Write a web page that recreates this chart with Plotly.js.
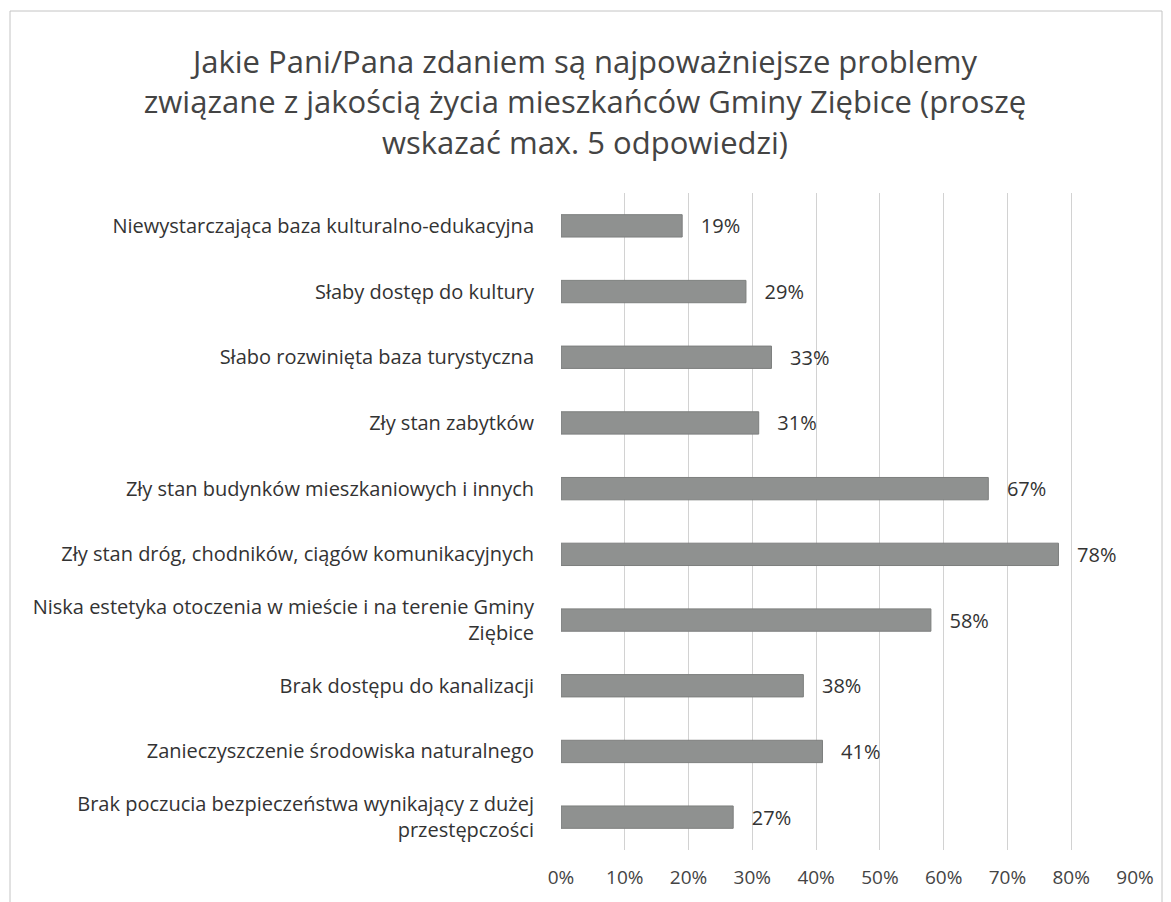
<!DOCTYPE html>
<html>
<head>
<meta charset="utf-8">
<script src="https://cdn.plot.ly/plotly-3.0.1.min.js"></script>
<style>
  html, body { margin: 0; padding: 0; background: #ffffff; }
  #chart { width: 1171px; height: 902px; }
</style>
</head>
<body>
<div id="chart"></div>
<script>
const categories = [
  "Niewystarczająca baza kulturalno-edukacyjna",
  "Słaby dostęp do kultury",
  "Słabo rozwinięta baza turystyczna",
  "Zły stan zabytków",
  "Zły stan budynków mieszkaniowych i innych",
  "Zły stan dróg, chodników, ciągów komunikacyjnych",
  "Niska estetyka otoczenia w mieście i na terenie Gminy<br>Ziębice",
  "Brak dostępu do kanalizacji",
  "Zanieczyszczenie środowiska naturalnego",
  "Brak poczucia bezpieczeństwa wynikający z dużej<br>przestępczości"
];
const values = [0.19, 0.29, 0.33, 0.31, 0.67, 0.78, 0.58, 0.38, 0.41, 0.27];
const tickValues = [0, 0.1, 0.2, 0.3, 0.4, 0.5, 0.6, 0.7, 0.8, 0.9];
const tickLabels = ["0%", "10%", "20%", "30%", "40%", "50%", "60%", "70%", "80%", "90%"];
const titleText = "Jakie Pani/Pana zdaniem są najpoważniejsze problemy<br>związane z jakością życia mieszkańców Gminy Ziębice (proszę<br>wskazać max. 5 odpowiedzi)";

const FONT = "'Open Sans', 'Noto Sans', 'Liberation Sans', sans-serif";

const trace = {
  type: "bar",
  orientation: "h",
  x: values,
  y: categories,
  marker: { color: "#8f9190", line: { color: "#7d7f7e", width: 1 } },
  text: values.map(v => "\u00a0\u00a0\u00a0" + Math.round(v * 100) + "%"),
  textposition: "outside",
  constraintext: "none",
  cliponaxis: false,
  textfont: { family: FONT, size: 20, color: "#333333" },
  hoverinfo: "none"
};

const M = { l: 561, r: 36, t: 193, b: 52 };
const plotH = 902 - M.t - M.b;
const plotW = 1171 - M.l - M.r;

const layout = {
  width: 1171,
  height: 902,
  paper_bgcolor: "#ffffff",
  plot_bgcolor: "#ffffff",
  margin: M,
  showlegend: false,
  bargap: 0.66,
  title: {
    text: titleText,
    font: { family: FONT, size: 31, color: "#444444" },
    x: 585 / 1171, xref: "container", xanchor: "center",
    y: 1 - 73 / 902, yref: "container", yanchor: "top"
  },
  xaxis: {
    range: [0, 0.9],
    tickvals: tickValues,
    ticktext: tickLabels,
    showgrid: true,
    gridcolor: "#d2d2d2",
    gridwidth: 1,
    zeroline: false,
    showline: false,
    ticks: "",
    ticklabelstandoff: 14,
    tickfont: { family: FONT, size: 19, color: "#444444" },
    fixedrange: true
  },
  yaxis: {
    autorange: "reversed",
    showgrid: false,
    zeroline: false,
    showline: false,
    ticks: "",
    ticklabelstandoff: 26,
    tickfont: { family: FONT, size: 20, color: "#333333" },
    fixedrange: true
  },
  shapes: [{
    type: "rect", xref: "paper", yref: "paper",
    x0: (10 - M.l) / plotW, x1: (1162 - M.l) / plotW,
    y0: -(M.b + 20) / plotH, y1: 1 + (M.t - 11) / plotH,
    line: { color: "#c4c4c4", width: 1 }, fillcolor: "rgba(0,0,0,0)", layer: "below"
  }]
};

Plotly.newPlot("chart", [trace], layout, { displayModeBar: false, staticPlot: true });
</script>
</body>
</html>
